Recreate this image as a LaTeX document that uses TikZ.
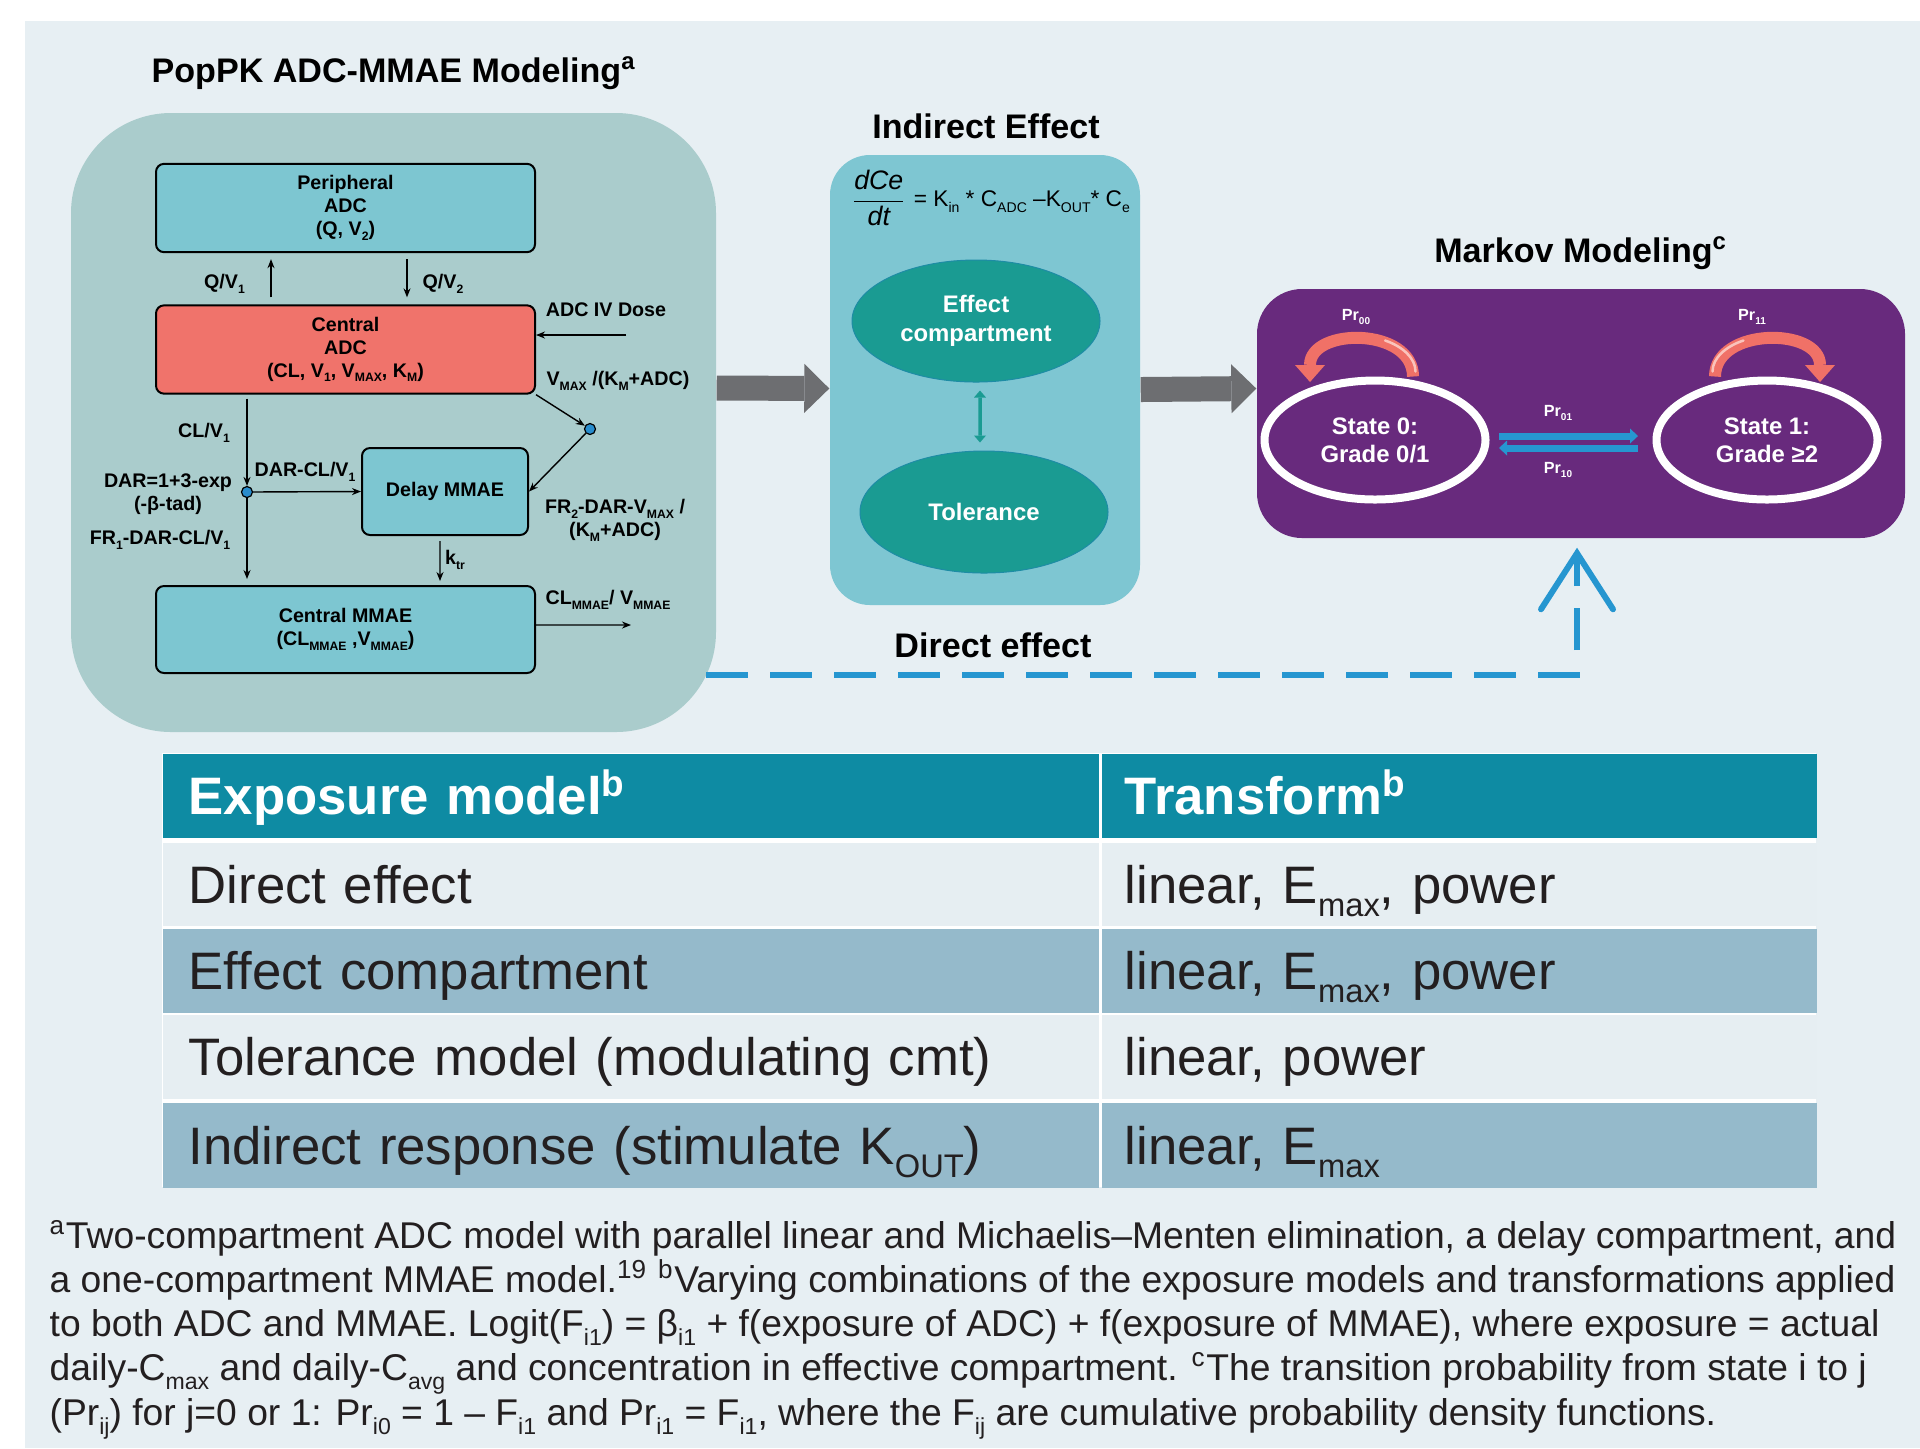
\documentclass[tikz,border=0pt]{standalone}
\usepackage{fontspec}
\setmainfont{Liberation Sans}
\usepackage{graphicx}
\usetikzlibrary{arrows.meta,shapes.geometric,calc}

\definecolor{pagebg}{RGB}{231,239,243}
\definecolor{pkpanel}{RGB}{170,204,204}
\definecolor{boxteal}{RGB}{125,198,209}
\definecolor{boxred}{RGB}{240,115,107}
\definecolor{iepanel}{RGB}{126,198,210}
\definecolor{effteal}{RGB}{26,155,146}
\definecolor{effline}{RGB}{30,140,165}
\definecolor{arrowgray}{RGB}{109,110,113}
\definecolor{markov}{RGB}{104,42,125}
\definecolor{loopred}{RGB}{240,113,103}
\definecolor{loophi}{RGB}{250,196,188}
\definecolor{prblue}{RGB}{38,150,208}
\definecolor{dotblue}{RGB}{40,140,205}
\definecolor{headteal}{RGB}{14,139,163}
\definecolor{rowdark}{RGB}{149,186,203}
\definecolor{rowlight}{RGB}{230,238,242}
\definecolor{textdark}{RGB}{35,31,32}

\newcommand{\dn}[1]{\raisebox{-0.25em}{\scalebox{0.62}{#1}}}

\tikzset{ box/.style = { rectangle % compartment
        , draw = black
        , line width = 0.02cm
        , rounded corners = 0.08cm
        , fill = boxteal
        , minimum width = 3.79cm
        , minimum height = 0.87cm
        , align = center
        , font = \fontsize{5.6}{6.5}\selectfont\bfseries
        }
        , lbl/.style = { rectangle % rate label
        , inner sep = 0pt
        , align = center
        , font = \fontsize{5.6}{6.5}\selectfont\bfseries
        }
        , dot/.style = { circle % branch point
        , draw = black
        , line width = 0.012cm
        , fill = dotblue
        , inner sep = 0pt
        , minimum size = 0.11cm
        }
        , ttl/.style = { rectangle % panel title
        , inner sep = 0pt
        , font = \fontsize{9.7}{11}\selectfont\bfseries
        }
        }

\begin{document}
\begin{tikzpicture}[
        panel_style/.style={rectangle,inner sep=0pt,draw=none},
        edge_style/.style={draw=black, line width=0.014cm, -{Stealth[length=0.09cm,width=0.07cm]}},
        block_style/.style={draw=arrowgray, line width=0.25cm, -{Triangle[length=0.25cm,width=0.49cm,line width=0pt]}},
        teal_edge_style/.style={draw=effteal, line width=0.035cm, {Triangle[length=0.07cm,width=0.12cm,line width=0pt]}-{Triangle[length=0.07cm,width=0.12cm,line width=0pt]}},
        cmt_style/.style={ellipse,draw=effline,line width=0.01cm,fill=effteal,minimum width=2.48cm,minimum height=1.22cm,inner sep=0pt,align=center,text=white,font=\fontsize{6.8}{8.2}\selectfont\bfseries},
        state_style/.style={ellipse,draw=white,line width=0.08cm,minimum width=2.21cm,minimum height=1.19cm,inner sep=0pt,align=center,text=white,font=\fontsize{6.8}{8}\selectfont\bfseries},
        pr_style/.style={inner sep=0pt,text=white,font=\fontsize{4.6}{5}\selectfont\bfseries},
        pr_edge_style/.style={draw=prblue, line width=0.07cm, -{Triangle[length=0.08cm,width=0.15cm,line width=0pt]}},
        loop_edge_style/.style={draw=loopred, line width=0.12cm, -{Triangle[length=0.17cm,width=0.30cm,line width=0pt]}},
        loop_hi_style/.style={draw=loophi, line width=0.025cm, line cap=round},
        direct_edge_style/.style={draw=prblue, line width=0.06cm, dash pattern=on 0.42cm off 0.22cm, -{Straight Barb[length=0.56cm,width=0.72cm,line cap=round]}},
        cell_style/.style={rectangle,anchor=north west,inner ysep=0pt,text height=0.38cm,text depth=0pt,align=left,text=textdark,font=\fontsize{15}{18}\selectfont},
        col_a/.style={cell_style,inner xsep=0.26cm,text width=8.84cm},
        col_b/.style={cell_style,inner xsep=0.23cm,text width=6.69cm},
        note_style/.style={anchor=base west,inner sep=0pt,text=textdark,font=\fontsize{10.6}{12.6}\selectfont}]

        \useasboundingbox (0,0) rectangle (19.20,-14.48);
        \fill [pagebg] (0.25,-0.21) rectangle (19.20,-14.48);

        % PopPK panel
        \node [panel_style, fill=pkpanel, rounded corners=1cm, minimum width=6.45cm, minimum height=6.19cm] (pk) at (3.935,-4.225) {};
        \node [ttl] (pk_title) at (3.94,-0.73) {PopPK ADC-MMAE Modeling\textsuperscript{a}};
        \node [box] (periph) at (3.455,-2.08) {Peripheral\\ADC\\(Q, V\dn{2})};
        \node [box, fill=boxred] (central_adc) at (3.455,-3.495) {Central\\ADC\\(CL, V\dn{1}, V\dn{MAX}, K\dn{M})};
        \node [box, minimum width=1.66cm] (delay) at (4.45,-4.915) {Delay MMAE};
        \node [box] (central_mmae) at (3.455,-6.295) {Central MMAE\\(CL\dn{MMAE} ,V\dn{MMAE})};
        \node [dot] (mm_pt) at (5.90,-4.29) {};
        \node [dot] (dar_pt) at (2.47,-4.92) {};
        \coordinate (dose_in) at (6.26,-3.35);
        \coordinate (cl_out) at (6.31,-6.25);

        \node [lbl] (qv1_lbl) at (2.245,-2.84) {Q/V\dn{1}};
        \node [lbl] (qv2_lbl) at (4.43,-2.84) {Q/V\dn{2}};
        \node [lbl] (dose_lbl) at (6.06,-3.10) {ADC IV Dose};
        \node [lbl] (vmax_lbl) at (6.18,-3.81) {V\dn{MAX} /(K\dn{M}+ADC)};
        \node [lbl] (fr2_lbl) at (6.15,-5.20) {FR\dn{2}-DAR-V\dn{MAX} /\\(K\dn{M}+ADC)};
        \node [lbl] (clv1_lbl) at (2.04,-4.33) {CL/V\dn{1}};
        \node [lbl] (dar_lbl) at (1.68,-4.945) {DAR=1+3-exp\\(-β-tad)};
        \node [lbl] (darclv1_lbl) at (3.05,-4.72) {DAR-CL/V\dn{1}};
        \node [lbl] (fr1_lbl) at (1.60,-5.40) {FR\dn{1}-DAR-CL/V\dn{1}};
        \node [lbl] (ktr_lbl) at (4.55,-5.60) {k\dn{tr}};
        \node [lbl] (clmmae_lbl) at (6.08,-6.00) {CL\dn{MMAE}/ V\dn{MMAE}};

        \draw [edge_style, shorten <=0.07cm, shorten >=0.06cm] ([xshift=-7.45mm]central_adc.north) -- ([xshift=-7.45mm]periph.south);
        \draw [edge_style, shorten <=0.06cm, shorten >=0.07cm] ([xshift=6.15mm]periph.south) -- ([xshift=6.15mm]central_adc.north);
        \draw [edge_style] (dose_in) -- (dose_in -| central_adc.east);
        \draw [edge_style] (central_adc.south east) -- (mm_pt);
        \draw [edge_style] (mm_pt) -- (delay.east);
        \draw [edge_style, shorten <=0.04cm] ([xshift=-9.85mm]central_adc.south) -- (dar_pt);
        \draw [edge_style] (dar_pt) -- (delay.west);
        \draw [edge_style, shorten >=0.06cm] (dar_pt) -- (dar_pt |- central_mmae.north);
        \draw [edge_style, shorten <=0.05cm, shorten >=0.04cm] ([xshift=-0.5mm]delay.south) -- ([xshift=9.45mm]central_mmae.north);
        \draw [edge_style] ([yshift=0.45mm]central_mmae.east) -- (cl_out);

        % Indirect effect panel
        \node [panel_style, fill=iepanel, rounded corners=0.4cm, minimum width=3.10cm, minimum height=4.50cm] (ie) at (9.85,-3.80) {};
        \node [ttl] (ie_title) at (9.86,-1.26) {Indirect Effect};
        \node [inner sep=0pt, font=\fontsize{6.45}{8}\selectfont] (eq) at (9.90,-1.98) {$\displaystyle\frac{\textit{\fontsize{7.6}{9}\selectfont dCe}}{\textit{\fontsize{7.6}{9}\selectfont dt}}$ = K\dn{in} * C\dn{ADC} –K\dn{OUT}* C\dn{e}};
        \node [cmt_style] (eff) at (9.76,-3.21) {Effect\\compartment};
        \node [cmt_style] (tol) at (9.84,-5.12) {Tolerance};
        \draw [teal_edge_style, shorten <=0.08cm, shorten >=0.08cm] ([xshift=0.4mm]eff.south) -- ([xshift=-0.4mm]tol.north);
        \node [ttl] (de_lbl) at (9.93,-6.45) {Direct effect};

        % Markov panel
        \node [panel_style, fill=markov, rounded corners=0.45cm, minimum width=6.48cm, minimum height=2.49cm] (mk) at (15.81,-4.135) {};
        \node [ttl] (mk_title) at (15.81,-2.53) {Markov Modeling\textsuperscript{c}};
        \node [state_style] (s0) at (13.75,-4.40) {State 0:\\Grade 0/1};
        \node [state_style] (s1) at (17.67,-4.40) {State 1:\\Grade ≥2};
        \node [pr_style] (pr00) at (13.56,-3.17) {Pr\dn{00}};
        \node [pr_style] (pr11) at (17.52,-3.17) {Pr\dn{11}};
        \node [pr_style] (pr01) at (15.58,-4.13) {Pr\dn{01}};
        \node [pr_style] (pr10) at (15.58,-4.70) {Pr\dn{10}};
        \coordinate (l0_end) at (13.10,-3.82);
        \coordinate (l1_end) at (18.20,-3.82);

        \draw [pr_edge_style, shorten <=0.095cm, shorten >=0.145cm] ([yshift=0.4mm]s0.east) -- ([yshift=0.4mm]s1.west);
        \draw [pr_edge_style, shorten <=0.145cm, shorten >=0.095cm] ([yshift=-0.8mm]s1.west) -- ([yshift=-0.8mm]s0.east);
        \draw [loop_edge_style] ([xshift=3.8mm]s0.north) .. controls (14.13,-3.27) and (13.10,-3.27) .. (l0_end);
        \draw [loop_edge_style] ([xshift=-5.2mm]s1.north) .. controls (17.15,-3.27) and (18.20,-3.27) .. (l1_end);
        \draw [loop_hi_style] ([xshift=4.05mm,yshift=0.5mm]s0.north) .. controls (14.155,-3.58) and (14.023,-3.463) .. (13.851,-3.405);
        \draw [loop_hi_style] ([xshift=-5.45mm,yshift=0.5mm]s1.north) .. controls (17.125,-3.58) and (17.259,-3.463) .. (17.434,-3.405);

        % panel to panel
        \draw [block_style] ([yshift=3.45mm]pk.east) -- ([yshift=-0.85mm]ie.west);
        \draw [block_style] ([yshift=-0.95mm]ie.east) -- ([yshift=2.5mm]mk.west);
        \coordinate (direct_from) at (7.06,-6.75);
        \draw [direct_edge_style, shorten >=0.09cm] (direct_from) -| ([xshift=-0.4mm]mk.south);

        % table
        \fill [white] (1.62,-7.53) rectangle (18.16,-11.87);
        \node [col_a, fill=headteal, text=white, font=\fontsize{15}{18}\selectfont\bfseries, minimum height=0.84cm] (h1) at (1.62,-7.53) {Exposure model\textsuperscript{b}};
        \node [col_b, fill=headteal, text=white, font=\fontsize{15}{18}\selectfont\bfseries, minimum height=0.84cm] (h2) at (11.01,-7.53) {Transform\textsuperscript{b}};
        \node [col_a, fill=rowlight, minimum height=0.83cm] (r1a) at (1.62,-8.42) {Direct effect};
        \node [col_b, fill=rowlight, minimum height=0.83cm] (r1b) at (11.01,-8.42) {linear, E\dn{max}, power};
        \node [col_a, fill=rowdark, minimum height=0.84cm] (r2a) at (1.62,-9.28) {Effect compartment};
        \node [col_b, fill=rowdark, minimum height=0.84cm] (r2b) at (11.01,-9.28) {linear, E\dn{max}, power};
        \node [col_a, fill=rowlight, minimum height=0.84cm] (r3a) at (1.62,-10.14) {Tolerance model (modulating cmt)};
        \node [col_b, fill=rowlight, minimum height=0.84cm] (r3b) at (11.01,-10.14) {linear, power};
        \node [col_a, fill=rowdark, minimum height=0.85cm] (r4a) at (1.62,-11.02) {Indirect response (stimulate K\dn{OUT})};
        \node [col_b, fill=rowdark, minimum height=0.85cm] (r4b) at (11.01,-11.02) {linear, E\dn{max}};

        % footnote
        \node [note_style] (note1) at (0.49,-12.48) {\textsuperscript{a}Two-compartment ADC model with parallel linear and Michaelis–Menten elimination, a delay compartment, and};
        \node [note_style] (note2) at (0.49,-12.92) {a one-compartment MMAE model.\textsuperscript{19} \textsuperscript{b}Varying combinations of the exposure models and transformations applied};
        \node [note_style] (note3) at (0.49,-13.36) {to both ADC and MMAE. Logit(F\dn{i1}) = β\dn{i1} + f(exposure of ADC) + f(exposure of MMAE), where exposure = actual};
        \node [note_style] (note4) at (0.49,-13.80) {daily-C\dn{max} and daily-C\dn{avg} and concentration in effective compartment. \textsuperscript{c}The transition probability from state i to j};
        \node [note_style] (note5) at (0.49,-14.25) {(Pr\dn{ij}) for j=0 or 1: Pr\dn{i0} = 1 – F\dn{i1} and Pr\dn{i1} = F\dn{i1}, where the F\dn{ij} are cumulative probability density functions.};
\end{tikzpicture}
\end{document}
